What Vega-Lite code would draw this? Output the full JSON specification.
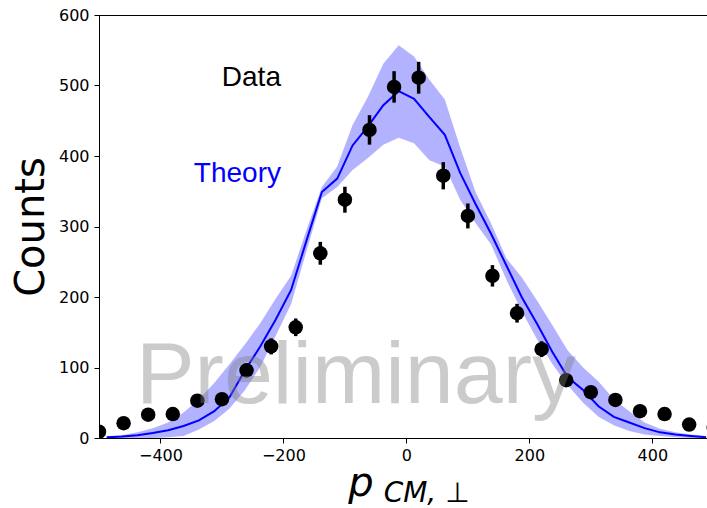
{
  "$schema": "https://vega.github.io/schema/vega-lite/v6.json",
  "width": 608,
  "height": 423,
  "autosize": {"type": "none"},
  "padding": {"left": 99, "top": 15, "right": 0, "bottom": 70},
  "background": "white",
  "config": {
    "view": {"stroke": null},
    "axis": {
      "grid": false,
      "labelFont": "DejaVu Sans",
      "labelFontSize": 16,
      "labelColor": "black",
      "tickColor": "black",
      "domainColor": "black",
      "domainWidth": 1,
      "tickWidth": 1,
      "tickSize": 5,
      "labelPadding": 4
    }
  },
  "datasets": {
    "obs": [
      {"x": -500, "y": 9, "lo": 6, "hi": 12},
      {"x": -460, "y": 21, "lo": 16.4, "hi": 25.6},
      {"x": -420, "y": 33, "lo": 27.3, "hi": 38.7},
      {"x": -380, "y": 34, "lo": 28.2, "hi": 39.8},
      {"x": -340, "y": 53, "lo": 45.7, "hi": 60.3},
      {"x": -300, "y": 55, "lo": 47.6, "hi": 62.4},
      {"x": -260, "y": 96, "lo": 86.2, "hi": 105.8},
      {"x": -220, "y": 130, "lo": 118.6, "hi": 141.4},
      {"x": -180, "y": 157, "lo": 144.5, "hi": 169.5},
      {"x": -140, "y": 262, "lo": 245.8, "hi": 278.2},
      {"x": -100, "y": 338, "lo": 319.6, "hi": 356.4},
      {"x": -60, "y": 437, "lo": 416.1, "hi": 457.9},
      {"x": -20, "y": 498, "lo": 475.7, "hi": 520.3},
      {"x": 20, "y": 511, "lo": 488.4, "hi": 533.6},
      {"x": 60, "y": 372, "lo": 352.7, "hi": 391.3},
      {"x": 100, "y": 315, "lo": 297.3, "hi": 332.7},
      {"x": 140, "y": 230, "lo": 214.8, "hi": 245.2},
      {"x": 180, "y": 177, "lo": 163.7, "hi": 190.3},
      {"x": 220, "y": 126, "lo": 114.8, "hi": 137.2},
      {"x": 260, "y": 82, "lo": 72.9, "hi": 91.1},
      {"x": 300, "y": 65, "lo": 56.9, "hi": 73.1},
      {"x": 340, "y": 54, "lo": 46.7, "hi": 61.3},
      {"x": 380, "y": 38, "lo": 31.8, "hi": 44.2},
      {"x": 420, "y": 34, "lo": 28.2, "hi": 39.8},
      {"x": 460, "y": 19, "lo": 14.6, "hi": 23.4},
      {"x": 500, "y": 15, "lo": 11.1, "hi": 18.9}
    ],
    "theory": [
      {"x": -487.5, "y": 1, "lo": 0, "hi": 2},
      {"x": -462.5, "y": 2, "lo": 0, "hi": 4},
      {"x": -437.5, "y": 4, "lo": 0, "hi": 8},
      {"x": -412.5, "y": 7, "lo": 0, "hi": 14},
      {"x": -387.5, "y": 11, "lo": 1, "hi": 22},
      {"x": -362.5, "y": 17, "lo": 3, "hi": 36},
      {"x": -337.5, "y": 25, "lo": 12, "hi": 55},
      {"x": -312.5, "y": 38, "lo": 24, "hi": 78},
      {"x": -287.5, "y": 58, "lo": 42, "hi": 105},
      {"x": -262.5, "y": 96, "lo": 68, "hi": 133},
      {"x": -237.5, "y": 130, "lo": 101, "hi": 163},
      {"x": -212.5, "y": 168, "lo": 145, "hi": 198},
      {"x": -187.5, "y": 210, "lo": 190, "hi": 230},
      {"x": -162.5, "y": 280, "lo": 265, "hi": 295},
      {"x": -137.5, "y": 349, "lo": 340, "hi": 356},
      {"x": -112.5, "y": 368, "lo": 356, "hi": 385},
      {"x": -87.5, "y": 415, "lo": 380, "hi": 444},
      {"x": -62.5, "y": 442, "lo": 397, "hi": 484},
      {"x": -37.5, "y": 472, "lo": 416, "hi": 531},
      {"x": -12.5, "y": 492, "lo": 426, "hi": 557},
      {"x": 12.5, "y": 481, "lo": 418, "hi": 541},
      {"x": 37.5, "y": 455, "lo": 394, "hi": 508},
      {"x": 62.5, "y": 430, "lo": 385, "hi": 480},
      {"x": 87.5, "y": 376, "lo": 338, "hi": 412},
      {"x": 112.5, "y": 332, "lo": 305, "hi": 349},
      {"x": 137.5, "y": 290, "lo": 275, "hi": 305},
      {"x": 162.5, "y": 245, "lo": 225, "hi": 255},
      {"x": 187.5, "y": 200, "lo": 180, "hi": 228},
      {"x": 212.5, "y": 162, "lo": 140, "hi": 195},
      {"x": 237.5, "y": 122, "lo": 105, "hi": 160},
      {"x": 262.5, "y": 86, "lo": 75, "hi": 124},
      {"x": 287.5, "y": 68, "lo": 50, "hi": 100},
      {"x": 312.5, "y": 45, "lo": 30, "hi": 80},
      {"x": 337.5, "y": 30, "lo": 18, "hi": 55},
      {"x": 362.5, "y": 22, "lo": 10, "hi": 38},
      {"x": 387.5, "y": 14, "lo": 5, "hi": 22},
      {"x": 412.5, "y": 8, "lo": 3, "hi": 13},
      {"x": 437.5, "y": 5, "lo": 1, "hi": 8},
      {"x": 462.5, "y": 3, "lo": 0, "hi": 5},
      {"x": 487.5, "y": 1, "lo": 0, "hi": 3}
    ]
  },
  "layer": [
    {
      "data": {"name": "theory"},
      "mark": {"type": "area", "color": "#0000ff", "opacity": 0.3, "clip": true},
      "encoding": {
        "x": {
          "field": "x", "type": "quantitative",
          "scale": {"domain": [-500, 489], "nice": false, "zero": false},
          "axis": {"title": null, "values": [-400, -200, 0, 200, 400]}
        },
        "y": {
          "field": "lo", "type": "quantitative",
          "scale": {"domain": [0, 600], "nice": false},
          "axis": {
            "title": "Counts",
            "values": [0, 100, 200, 300, 400, 500, 600],
            "titleFont": "DejaVu Sans",
            "titleFontSize": 40,
            "titleFontWeight": "normal",
            "titleColor": "black",
            "titleAngle": 270,
            "titleAlign": "center",
            "titleBaseline": "alphabetic",
            "titleX": -56,
            "titleY": 211.5,
            "labelPadding": 5
          }
        },
        "y2": {"field": "hi"}
      }
    },
    {
      "data": {"name": "theory"},
      "mark": {"type": "line", "color": "#0000ff", "strokeWidth": 2, "clip": true},
      "encoding": {
        "x": {"field": "x", "type": "quantitative"},
        "y": {"field": "y", "type": "quantitative"}
      }
    },
    {
      "data": {"values": [{}]},
      "mark": {"type": "rule", "color": "black", "strokeWidth": 1, "yOffset": 0.5},
      "encoding": {"y": {"datum": 600}}
    },
    {
      "data": {"name": "obs"},
      "mark": {"type": "rule", "color": "black", "strokeWidth": 3.5, "clip": true},
      "encoding": {
        "x": {"field": "x", "type": "quantitative"},
        "y": {"field": "lo", "type": "quantitative"},
        "y2": {"field": "hi"}
      }
    },
    {
      "data": {"name": "obs"},
      "mark": {"type": "point", "filled": true, "shape": "circle", "color": "black", "opacity": 1, "size": 210, "clip": true},
      "encoding": {
        "x": {"field": "x", "type": "quantitative"},
        "y": {"field": "y", "type": "quantitative"}
      }
    },
    {
      "data": {"values": [{}]},
      "mark": {"type": "text", "text": "Data", "font": "Liberation Sans", "fontSize": 28, "color": "black", "align": "right", "baseline": "alphabetic"},
      "encoding": {"x": {"datum": -204}, "y": {"datum": 500}}
    },
    {
      "data": {"values": [{}]},
      "mark": {"type": "text", "text": "Theory", "font": "Liberation Sans", "fontSize": 28, "color": "#0000ff", "align": "right", "baseline": "alphabetic"},
      "encoding": {"x": {"datum": -204}, "y": {"datum": 363}}
    },
    {
      "data": {"values": [{}]},
      "mark": {"type": "text", "text": "p", "font": "DejaVu Sans", "fontStyle": "italic", "fontSize": 40, "color": "black", "align": "center", "baseline": "alphabetic"},
      "encoding": {"x": {"datum": -74}, "y": {"datum": -82}}
    },
    {
      "data": {"values": [{}]},
      "mark": {"type": "text", "text": "CM, ⊥", "font": "DejaVu Sans", "fontStyle": "italic", "fontSize": 28, "color": "black", "align": "left", "baseline": "alphabetic"},
      "encoding": {"x": {"datum": -37}, "y": {"datum": -91}}
    },
    {
      "data": {"values": [{}]},
      "mark": {"type": "text", "text": "Preliminary", "font": "Liberation Sans", "fontSize": 88, "color": "#808080", "opacity": 0.4, "align": "center", "baseline": "alphabetic"},
      "encoding": {"x": {"datum": -82}, "y": {"datum": 49}}
    }
  ]
}
